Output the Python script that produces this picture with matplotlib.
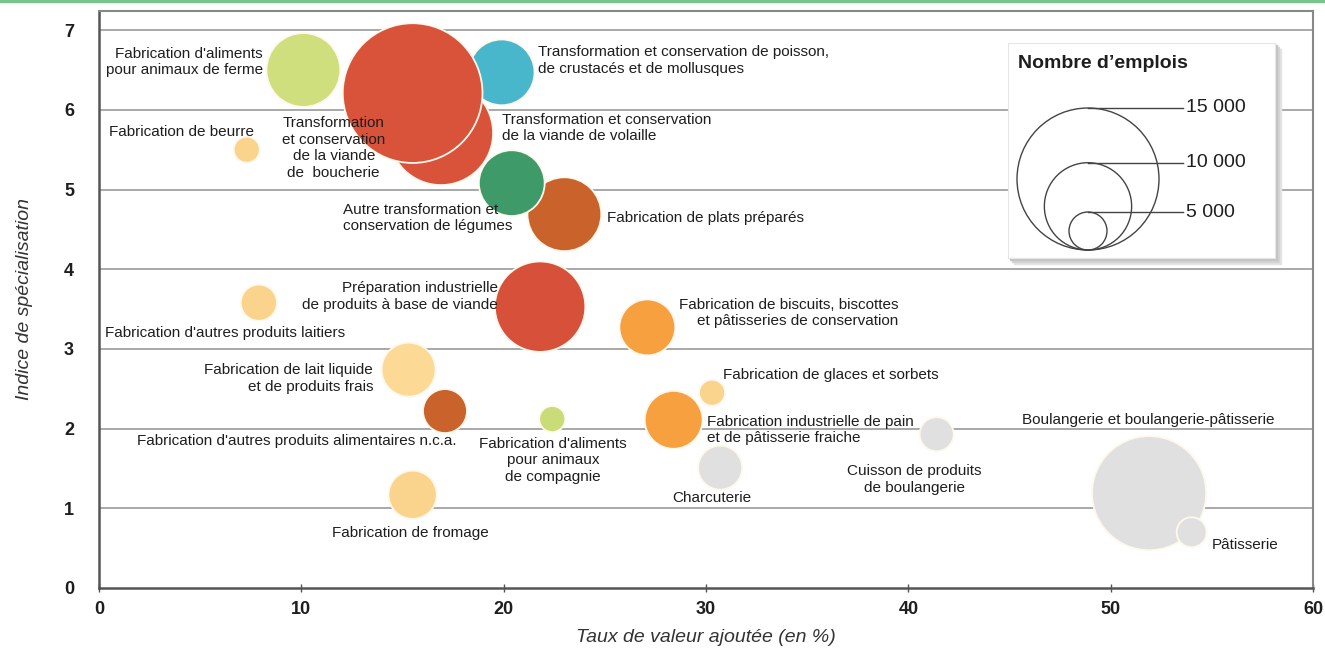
import numpy as np
import matplotlib.pyplot as plt
from matplotlib.patches import Circle, Rectangle
from matplotlib.lines import Line2D

# secteurs de l'industrie agroalimentaire
secteurs = [
    "Transformation et conservation de la viande de volaille",
    "Transformation et conservation de poisson, de crustacés et de mollusques",
    "Transformation et conservation de la viande de boucherie",
    "Fabrication d'aliments pour animaux de ferme",
    "Fabrication de plats préparés",
    "Autre transformation et conservation de légumes",
    "Fabrication de beurre",
    "Préparation industrielle de produits à base de viande",
    "Fabrication de biscuits, biscottes et pâtisseries de conservation",
    "Fabrication d'autres produits laitiers",
    "Fabrication de lait liquide et de produits frais",
    "Fabrication d'autres produits alimentaires n.c.a.",
    "Fabrication de fromage",
    "Fabrication d'aliments pour animaux de compagnie",
    "Fabrication industrielle de pain et de pâtisserie fraiche",
    "Fabrication de glaces et sorbets",
    "Charcuterie",
    "Cuisson de produits de boulangerie",
    "Boulangerie et boulangerie-pâtisserie",
    "Pâtisserie",
]
taux_va = [16.9, 19.9, 15.5, 10.1, 23.0, 20.4, 7.3, 21.8, 27.1, 7.9,
           15.3, 17.1, 15.5, 22.4, 28.4, 30.3, 30.7, 41.4, 51.9, 54.0]
indice_spec = [5.71, 6.47, 6.21, 6.50, 4.69, 5.08, 5.50, 3.53, 3.27, 3.58,
               2.74, 2.22, 1.17, 2.12, 2.11, 2.45, 1.51, 1.93, 1.19, 0.70]
emplois = [11600, 7900, 14800, 8700, 8700, 7900, 3650, 10300, 6900, 4800,
           6700, 5650, 6100, 3650, 7100, 3650, 5650, 4560, 12500, 4100]
couleurs = ["#d9533a", "#48b7cb", "#d9533a", "#cfdf7d", "#c9632b", "#3f9a69",
            "#fad48c", "#d6503a", "#f6a03f", "#fad48c", "#fcd995", "#c9632b",
            "#fad48c", "#c9dc78", "#f6a03f", "#fad48c", "#e0e0e0", "#e0e0e0",
            "#e0e0e0", "#e0e0e0"]
legende_valeurs = [15000, 10000, 5000]

DPI = 100
W, H = 1325, 650


def rayon_px(n):
    # echelle de la legende du graphique d'origine
    return 71 * (np.asarray(n) / 15000) ** 1.2


plt.rcParams['font.family'] = ['Liberation Sans Narrow', 'Liberation Sans', 'DejaVu Sans']

fig = plt.figure(figsize=(W / DPI, H / DPI), dpi=DPI)
ax = fig.add_axes([99 / W, 1 - 588 / H, (1313 - 99) / W, (588 - 11) / H])

# bulles
r = rayon_px(emplois)
s = (2 * r * 72 / DPI) ** 2
ax.scatter(taux_va, indice_spec, s=s, c=couleurs, edgecolors="#fff8ec",
           linewidths=1.3, zorder=3)

# etiquettes (texte, x, y, alignement)
etiquettes = [
    ("Fabrication d'aliments\npour animaux de ferme", 8.1, 6.6, "right"),
    ("Fabrication de beurre", 4.1, 5.72, "center"),
    ("Transformation\net conservation\nde la viande\nde  boucherie", 11.6, 5.52, "center"),
    ("Transformation et conservation de poisson,\nde crustacés et de mollusques", 21.7, 6.62, "left"),
    ("Transformation et conservation\nde la viande de volaille", 19.9, 5.77, "left"),
    ("Autre transformation et\nconservation de légumes", 12.05, 4.64, "left"),
    ("Fabrication de plats préparés", 25.1, 4.64, "left"),
    ("Préparation industrielle\nde produits à base de viande", 19.7, 3.66, "right"),
    ("Fabrication d'autres produits laitiers", 0.3, 3.2, "left"),
    ("Fabrication de biscuits, biscottes\net pâtisseries de conservation", 39.5, 3.45, "right"),
    ("Fabrication de lait liquide\net de produits frais", 13.55, 2.63, "right"),
    ("Fabrication de glaces et sorbets", 30.85, 2.67, "left"),
    ("Boulangerie et boulangerie-pâtisserie", 45.6, 2.11, "left"),
    ("Fabrication d'autres produits alimentaires n.c.a.", 1.9, 1.84, "left"),
    ("Fabrication d'aliments\npour animaux\nde compagnie", 22.45, 1.6, "center"),
    ("Fabrication industrielle de pain\net de pâtisserie fraiche", 30.05, 1.98, "left"),
    ("Cuisson de produits\nde boulangerie", 40.3, 1.36, "center"),
    ("Charcuterie", 30.3, 1.13, "center"),
    ("Fabrication de fromage", 15.4, 0.69, "center"),
    ("Pâtisserie", 55.0, 0.54, "left"),
]
for txt, x, y, ha in etiquettes:
    ax.text(x, y, txt, ha=ha, va="center", fontsize=11, color="#1e1e1e",
            linespacing=1.22, zorder=4, multialignment=ha)

# axes
ax.set_xlim(0, 60)
ax.set_ylim(0, 7.24)
ax.set_xticks(range(0, 61, 10))
ax.set_yticks(range(0, 8))
for yv in range(1, 8):
    ax.axhline(yv, color="#9a9a9a", lw=1.2, zorder=1)
ax.tick_params(axis="y", length=0, pad=18, labelsize=13)
ax.tick_params(axis="x", direction="inout", length=6, width=1, color="#555555",
               pad=6, labelsize=13)
for lab in ax.get_xticklabels() + ax.get_yticklabels():
    lab.set_fontweight("bold")
    lab.set_color("#1e1e1e")
for side in ["left", "bottom"]:
    ax.spines[side].set_color("#555555")
    ax.spines[side].set_linewidth(1.8)
for side in ["top", "right"]:
    ax.spines[side].set_color("#888888")
    ax.spines[side].set_linewidth(1.5)
ax.set_xlabel("Taux de valeur ajoutée (en %)", fontsize=14, style="italic",
              color="#333333", labelpad=8)
ax.set_ylabel("Indice de spécialisation", fontsize=14, style="italic",
              color="#333333", labelpad=22)

# filet vert en haut
fig.add_artist(Line2D([0, 1], [0.998, 0.998], color="#7cc28c", lw=2.5,
                      transform=fig.transFigure))

# legende des tailles
bx0, by0, bx1, by1 = 1008, 43, 1275, 258
for k, c in enumerate(["#e4e4e4", "#d4d4d4", "#c4c4c4"]):
    off = 6 - 2 * k
    fig.add_artist(Rectangle(((bx0 + off) / W, 1 - (by1 + off) / H), (bx1 - bx0) / W,
                             (by1 - by0) / H, transform=fig.transFigure,
                             color=c, zorder=5))
leg = fig.add_axes([bx0 / W, 1 - by1 / H, (bx1 - bx0) / W, (by1 - by0) / H],
                   zorder=6)
leg.set_xlim(0, bx1 - bx0)
leg.set_ylim(0, by1 - by0)
leg.set_xticks([])
leg.set_yticks([])
for sp in leg.spines.values():
    sp.set_color("#e6e6e6")
leg.text(10, 194, "Nombre d\u2019emplois", fontsize=14, fontweight="bold",
         va="center", ha="left", color="#1e1e1e")
for n in legende_valeurs:
    rr = float(rayon_px(n))
    leg.add_patch(Circle((80, 8 + rr), rr, fill=False, ec="#444444", lw=1))
    leg.plot([80, 175], [8 + 2 * rr, 8 + 2 * rr], color="#444444", lw=1)
    leg.text(178, 8 + 2 * rr, f"{n:,}".replace(",", " "), fontsize=14,
             va="center", ha="left", color="#1e1e1e")

fig.savefig("out.png", dpi=DPI)
